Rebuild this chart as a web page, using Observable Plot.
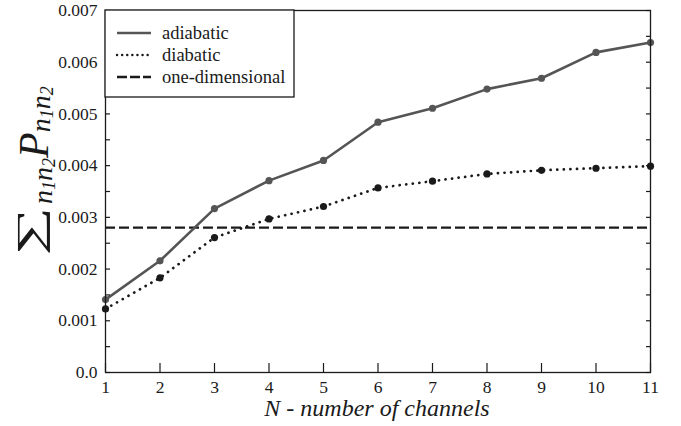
<!DOCTYPE html>
<html>
<head>
<meta charset="utf-8">
<script src="https://cdn.jsdelivr.net/npm/d3@7"></script>
<script src="https://cdn.jsdelivr.net/npm/@observablehq/plot@0.6"></script>
<style>
  html, body { margin: 0; padding: 0; background: #fff; }
  #chart svg { display: block; }
  #chart svg text { font-family: "Liberation Serif", "Times New Roman", serif; }
</style>
</head>
<body>
<div id="chart"></div>
<script>
// Number of channels N
const channels = [1, 2, 3, 4, 5, 6, 7, 8, 9, 10, 11];
// Summed transition probability, adiabatic coupling
const adiabatic = [0.00141, 0.00216, 0.00317, 0.00371, 0.00410, 0.00484, 0.00511, 0.00548, 0.00569, 0.00619, 0.00638];
// Summed transition probability, diabatic coupling
const diabatic = [0.00123, 0.00183, 0.00261, 0.00297, 0.00321, 0.00357, 0.00370, 0.00384, 0.00391, 0.00395, 0.00399];
// One-dimensional reference level
const oneDimensional = [0.0028];

const yTicks = [0, 0.001, 0.002, 0.003, 0.004, 0.005, 0.006, 0.007];
const yTickLabels = ["0.0", "0.001", "0.002", "0.003", "0.004", "0.005", "0.006", "0.007"];
const yMinorTicks = [0, 0.0005, 0.001, 0.0015, 0.002, 0.0025, 0.003, 0.0035, 0.004, 0.0045, 0.005, 0.0055, 0.006, 0.0065, 0.007];
const seriesNames = ["adiabatic", "diabatic", "one-dimensional"];
const xTitle = "N - number of channels";

const adiabaticRows = channels.map((n, i) => ({n, p: adiabatic[i]}));
const diabaticRows = channels.map((n, i) => ({n, p: diabatic[i]}));

const W = 681, H = 426;
const ink = "#1a1a1a";
const grey = "#555555";
const serif = "Liberation Serif, Times New Roman, serif";

const chart = Plot.plot({
  width: W,
  height: H,
  marginLeft: 105,
  marginRight: 31,
  marginTop: 10,
  marginBottom: 54,
  style: {fontFamily: serif, fontSize: "17.5px", color: ink, background: "#fff"},
  x: {domain: [1, 11], label: null},
  y: {domain: [0, 0.007], label: null},
  marks: [
    Plot.ruleY(oneDimensional, {stroke: ink, strokeWidth: 2.2, strokeDasharray: "10,4"}),
    Plot.line(diabaticRows, {x: "n", y: "p", stroke: ink, strokeWidth: 2.7, strokeDasharray: "0.1,6.5", strokeLinecap: "round"}),
    Plot.dot(diabaticRows, {x: "n", y: "p", r: 3.6, fill: ink}),
    Plot.line(adiabaticRows, {x: "n", y: "p", stroke: grey, strokeWidth: 2.6}),
    Plot.dot(adiabaticRows, {x: "n", y: "p", r: 3.6, fill: grey}),
    Plot.frame({stroke: ink, strokeWidth: 1.3}),
    // tick labels
    Plot.axisY(yTicks, {anchor: "left", tickSize: 0, tickPadding: 8, label: null,
      tickFormat: d => yTickLabels[yTicks.indexOf(d)]}),
    Plot.axisX(channels, {anchor: "bottom", tickSize: 0, tickPadding: 8, label: null}),
    // inward tick marks
    Plot.axisY(yMinorTicks, {anchor: "left", tickSize: -5, fill: "none", label: null, strokeWidth: 1.2}),
    Plot.axisY(yMinorTicks, {anchor: "right", tickSize: -5, fill: "none", label: null, strokeWidth: 1.2}),
    Plot.axisX(channels, {anchor: "bottom", tickSize: -9, fill: "none", label: null, strokeWidth: 1.2})
  ]
});

document.getElementById("chart").appendChild(chart);

const svg = d3.select(chart);

// legend box in the upper-left corner of the frame
const legend = svg.append("g").attr("text-anchor", "start");
legend.append("rect")
  .attr("x", 105).attr("y", 10).attr("width", 189).attr("height", 87)
  .attr("fill", "#fff").attr("stroke", ink).attr("stroke-width", 1.3);
const legendStyles = [
  {stroke: grey, dash: null, cap: "butt"},
  {stroke: ink, dash: "0.1,5", cap: "round"},
  {stroke: ink, dash: "10,3", cap: "butt"}
];
seriesNames.forEach((name, i) => {
  const y = 33 + i * 22;
  const s = legendStyles[i];
  legend.append("line")
    .attr("x1", 117).attr("x2", 151).attr("y1", y).attr("y2", y)
    .attr("stroke", s.stroke).attr("stroke-width", 2.4)
    .attr("stroke-linecap", s.cap)
    .attr("stroke-dasharray", s.dash);
  legend.append("text")
    .attr("x", 162).attr("y", y + 6)
    .attr("font-family", serif).attr("font-size", 18.5).attr("fill", ink)
    .text(name);
});

// x-axis title
svg.append("text")
  .attr("x", 377).attr("y", 416)
  .attr("text-anchor", "middle")
  .attr("font-family", serif).attr("font-size", 24).attr("font-style", "italic")
  .attr("fill", ink)
  .text(xTitle);

// y-axis title: Σ_{n1n2} P_{n1n2}
svg.append("text")
  .attr("transform", "translate(42,256) rotate(-90) scale(1.85,1)")
  .attr("text-anchor", "start")
  .attr("font-family", serif).attr("font-size", 37).attr("fill", ink)
  .text("∑");
const yt = svg.append("text")
  .attr("transform", "translate(48,204) rotate(-90)")
  .attr("text-anchor", "start")
  .attr("font-family", serif).attr("fill", ink);
const sub = (dy) => {
  yt.append("tspan").attr("font-size", 28).attr("font-style", "italic").attr("dy", dy).text("n");
  yt.append("tspan").attr("font-size", 18).attr("font-style", "italic").attr("dy", 3).text("1");
  yt.append("tspan").attr("font-size", 28).attr("font-style", "italic").attr("dy", -3).text("n");
  yt.append("tspan").attr("font-size", 18).attr("font-style", "italic").attr("dy", 3).text("2");
};
sub(4);
yt.append("tspan").attr("font-size", 42).attr("font-style", "italic").attr("dy", -7).text("P");
sub(2);
</script>
</body>
</html>
